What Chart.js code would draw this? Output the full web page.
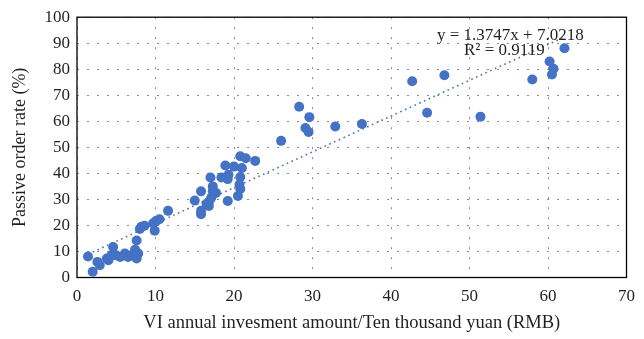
<!DOCTYPE html>
<html>
<head>
<meta charset="utf-8">
<script src="https://cdn.jsdelivr.net/npm/chart.js@4.4.1/dist/chart.umd.min.js"></script>
<style>
  html, body { margin: 0; padding: 0; background: #ffffff; }
  #wrap { width: 644px; height: 339px; }
</style>
</head>
<body>
<div id="wrap"><canvas id="chart" width="644" height="339"></canvas></div>
<script>
// VI annual investment (ten thousand yuan) for each enterprise
const investment = [
  1.4, 2.0, 2.6, 2.9, 3.8, 4.0, 4.4, 4.6, 5.0, 5.5, 6.1, 6.5, 6.9, 7.4, 7.6, 7.8, 7.6,
  8.0, 8.2, 8.6, 9.7, 10.1, 9.9, 10.5, 11.6,
  15.0, 15.8, 15.8, 15.8, 16.5, 16.8, 16.8, 17.0, 17.3, 17.3, 17.7, 17.1, 18.4, 18.9,
  19.2, 19.3, 19.2, 20.0, 20.5, 20.7, 20.8, 20.8, 20.8, 21.5, 21.0, 22.7,
  26.0, 28.3, 29.1, 29.5, 29.6, 32.9, 36.3,
  42.7, 44.6, 46.8, 51.4, 58.0, 60.2, 60.5, 60.7, 62.1
];

// Passive order rate (%) for the same enterprises
const passiveRate = [
  8.1, 2.2, 6.0, 4.7, 7.3, 6.6, 8.5, 11.7, 8.5, 7.9, 9.2, 7.9, 8.5, 10.7, 14.2, 9.2, 7.3,
  18.6, 19.5, 19.9, 20.8, 21.8, 18.0, 22.4, 25.6,
  29.6, 33.1, 25.6, 24.3, 28.3, 27.5, 29.1, 38.4, 35.0, 33.1, 32.5, 30.6, 38.4, 43.0,
  29.4, 39.5, 37.8, 42.6, 31.3, 35.7, 34.0, 38.6, 46.6, 45.8, 42.1, 44.8,
  52.5, 65.6, 57.4, 55.9, 61.6, 58.0, 59.0,
  75.4, 63.3, 77.7, 61.8, 76.1, 83.0, 78.0, 80.2, 88.1
];

// Axis ticks
const xTicks = [0, 10, 20, 30, 40, 50, 60, 70];
const yTicks = [0, 10, 20, 30, 40, 50, 60, 70, 80, 90, 100];

// Linear trendline y = slope * x + intercept
const slope = 1.3747;
const intercept = 7.0218;
const rSquared = 0.9119;

const xTitle = 'VI annual invesment amount/Ten thousand yuan (RMB)';
const yTitle = 'Passive order rate (%)';

const points = investment.map((x, i) => ({ x: x, y: passiveRate[i] }));
const xMin = Math.min(...investment);
const xMax = Math.max(...investment);
const trend = [xMin, xMax].map(x => ({ x: x, y: slope * x + intercept }));

const FONT = "'Liberation Serif', 'Times New Roman', serif";
const TEXT = '#231f20';
const BLUE = '#4472C4';

// Plot frame and trendline equation
const framePlugin = {
  id: 'frameAndEquation',
  afterDraw(chart) {
    const { ctx, chartArea: a, scales } = chart;
    ctx.save();
    ctx.strokeStyle = '#000000';
    ctx.lineWidth = 1.3;
    ctx.strokeRect(a.left, a.top, a.right - a.left, a.bottom - a.top);

    ctx.fillStyle = TEXT;
    ctx.font = '17px ' + FONT;
    ctx.textAlign = 'center';
    ctx.textBaseline = 'middle';
    const ex = scales.x.getPixelForValue(55.2);
    const ey = scales.y.getPixelForValue(93.0);
    ctx.fillText('y = ' + slope.toFixed(4) + 'x + ' + intercept.toFixed(4), ex, ey);
    ctx.fillText('R\u00B2 = ' + rSquared.toFixed(4), ex - 6, ey + 15);
    ctx.restore();
  }
};

new Chart(document.getElementById('chart'), {
  type: 'scatter',
  data: {
    datasets: [
      {
        type: 'line',
        data: trend,
        borderColor: BLUE,
        borderWidth: 1.6,
        borderDash: [1.6, 3.6],
        pointRadius: 0,
        fill: false,
        order: 0
      },
      {
        data: points,
        backgroundColor: BLUE,
        borderColor: BLUE,
        borderWidth: 0,
        pointRadius: 5,
        order: 1
      }
    ]
  },
  options: {
    responsive: false,
    animation: false,
    devicePixelRatio: 1,
    layout: { padding: { left: 0, right: 16, top: 13, bottom: 0 } },
    plugins: {
      legend: { display: false },
      tooltip: { enabled: false }
    },
    scales: {
      x: {
        type: 'linear',
        min: 0,
        max: 70,
        afterBuildTicks: s => { s.ticks = xTicks.map(v => ({ value: v })); },
        afterFit: s => { s.height = 61.5; },
        grid: { color: '#8a8a8a', lineWidth: 1, drawTicks: false },
        border: { display: false, dash: [2, 8] },
        ticks: { color: TEXT, padding: 9, font: { family: FONT, size: 17 } },
        title: {
          display: true,
          text: xTitle,
          color: TEXT,
          font: { family: FONT, size: 18.5 },
          padding: { top: 0, bottom: 5 }
        }
      },
      y: {
        type: 'linear',
        min: 0,
        max: 100,
        afterBuildTicks: s => { s.ticks = yTicks.map(v => ({ value: v })); },
        afterFit: s => { s.width = 77; },
        grid: { color: '#8a8a8a', lineWidth: 1, drawTicks: false },
        border: { display: false, dash: [2, 8] },
        ticks: { color: TEXT, padding: 7, font: { family: FONT, size: 17 } },
        title: {
          display: true,
          text: yTitle,
          color: TEXT,
          font: { family: FONT, size: 18 },
          padding: { top: 9, bottom: 0 }
        }
      }
    }
  },
  plugins: [framePlugin]
});
</script>
</body>
</html>
